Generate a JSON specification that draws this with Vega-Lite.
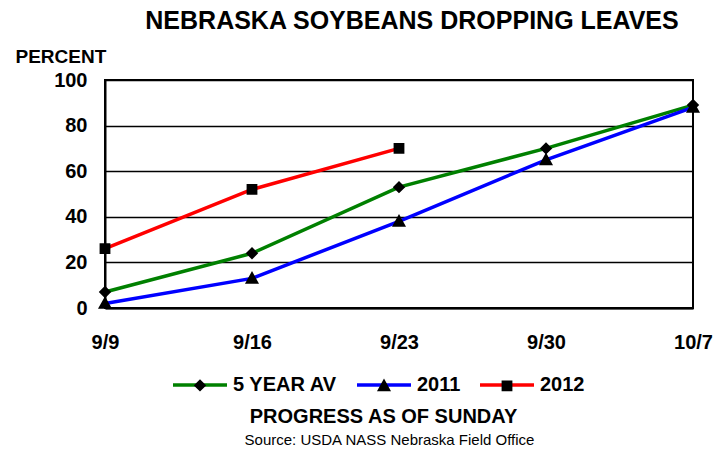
{
  "$schema": "https://vega.github.io/schema/vega-lite/v6.json",
  "width": 588,
  "height": 228,
  "autosize": {"type": "none"},
  "padding": {"left": 105, "top": 80, "right": 34, "bottom": 141},
  "background": "white",
  "config": {
    "font": "Liberation Sans",
    "view": {"stroke": "#000", "strokeWidth": 2},
    "axis": {"labelFont": "Liberation Sans", "titleFont": "Liberation Sans"},
    "legend": {"labelFont": "Liberation Sans"}
  },
  "title": {
    "text": "NEBRASKA SOYBEANS DROPPING LEAVES",
    "fontSize": 25,
    "fontWeight": "bold",
    "color": "#000",
    "anchor": "middle",
    "dx": 13,
    "offset": 13
  },
  "data": {
    "values": [
      {"date": "9/9", "series": "5 YEAR AV", "value": 7},
      {"date": "9/16", "series": "5 YEAR AV", "value": 24},
      {"date": "9/23", "series": "5 YEAR AV", "value": 53},
      {"date": "9/30", "series": "5 YEAR AV", "value": 70},
      {"date": "10/7", "series": "5 YEAR AV", "value": 89},
      {"date": "9/9", "series": "2011", "value": 2},
      {"date": "9/16", "series": "2011", "value": 13},
      {"date": "9/23", "series": "2011", "value": 38},
      {"date": "9/30", "series": "2011", "value": 65},
      {"date": "10/7", "series": "2011", "value": 88},
      {"date": "9/9", "series": "2012", "value": 26},
      {"date": "9/16", "series": "2012", "value": 52},
      {"date": "9/23", "series": "2012", "value": 70}
    ]
  },
  "resolve": {"axis": {"x": "independent"}},
  "layer": [
    {
      "mark": {"type": "line", "strokeWidth": 3.5},
      "encoding": {
        "x": {
          "field": "date",
          "type": "ordinal",
          "sort": ["9/9", "9/16", "9/23", "9/30", "10/7"],
          "scale": {"type": "point", "padding": 0, "domain": ["9/9", "9/16", "9/23", "9/30", "10/7"]},
          "axis": {
            "orient": "bottom",
            "title": "PROGRESS AS OF SUNDAY",
            "titleFontSize": 20,
            "titleFontWeight": "bold",
            "titleColor": "#000",
            "titleX": 278,
            "titleAlign": "center",
            "titlePadding": 54,
            "labelFontSize": 20,
            "labelFontWeight": "bold",
            "labelColor": "#000",
            "labelAngle": 0,
            "labelPadding": 24,
            "ticks": false,
            "domainColor": "#000",
            "domainWidth": 2,
            "grid": false
          }
        },
        "y": {
          "field": "value",
          "type": "quantitative",
          "scale": {"domain": [0, 100]},
          "axis": {
            "values": [0, 20, 40, 60, 80, 100],
            "title": "PERCENT",
            "titleAngle": 0,
            "titleX": -90,
            "titleY": -33,
            "titleAlign": "left",
            "titleBaseline": "top",
            "titleFontSize": 19,
            "titleFontWeight": "bold",
            "titleColor": "#000",
            "labelFontSize": 20,
            "labelFontWeight": "bold",
            "labelColor": "#000",
            "labelPadding": 18,
            "ticks": false,
            "domainColor": "#000",
            "domainWidth": 2,
            "grid": true,
            "gridColor": "#000",
            "gridWidth": 1.5,
            "gridOpacity": 1
          }
        },
        "color": {
          "field": "series",
          "type": "nominal",
          "sort": ["5 YEAR AV", "2011", "2012"],
          "scale": {"range": ["#008000", "#0000ff", "#ff0000"]},
          "legend": {
            "title": null,
            "orient": "none",
            "direction": "horizontal",
            "legendX": 66,
            "legendY": 276,
            "symbolType": "stroke",
            "symbolSize": 2916,
            "symbolStrokeWidth": 3.5,
            "labelFontSize": 20,
            "labelFontWeight": "bold",
            "labelColor": "#000",
            "labelOffset": 4,
            "columnPadding": 12
          }
        }
      }
    },
    {
      "mark": {"type": "point", "filled": true, "opacity": 1, "size": 2916, "color": "#000"},
      "encoding": {
        "x": {
          "field": "date",
          "type": "ordinal",
          "sort": ["9/9", "9/16", "9/23", "9/30", "10/7"],
          "axis": {
            "orient": "bottom",
            "title": "Source: USDA NASS Nebraska Field Office",
            "titleFontSize": 15,
            "titleFontWeight": "normal",
            "titleColor": "#000",
            "titleX": 284,
            "titleAlign": "center",
            "titlePadding": 124,
            "labels": false,
            "ticks": false,
            "domain": false,
            "grid": false
          }
        },
        "y": {"field": "value", "type": "quantitative"},
        "shape": {
          "field": "series",
          "type": "nominal",
          "scale": {
            "domain": ["5 YEAR AV", "2011", "2012"],
            "range": [
              "M-1,0L1,0M-0.23,0L0,-0.23L0.23,0L0,0.23Z",
              "M-1,0L1,0M0,-0.27L0.26,0.2L-0.26,0.2Z",
              "M-1,0L1,0M-0.2,-0.2L0.2,-0.2L0.2,0.2L-0.2,0.2Z"
            ]
          },
          "legend": {
            "title": null,
            "orient": "none",
            "direction": "horizontal",
            "legendX": 66,
            "legendY": 276,
            "symbolSize": 2916,
            "symbolStrokeWidth": 3.5,
            "symbolStrokeColor": "transparent",
            "symbolFillColor": "#000",
            "labelFontSize": 20,
            "labelFontWeight": "bold",
            "labelOpacity": 0,
            "labelOffset": 4,
            "columnPadding": 12
          }
        }
      }
    }
  ]
}
